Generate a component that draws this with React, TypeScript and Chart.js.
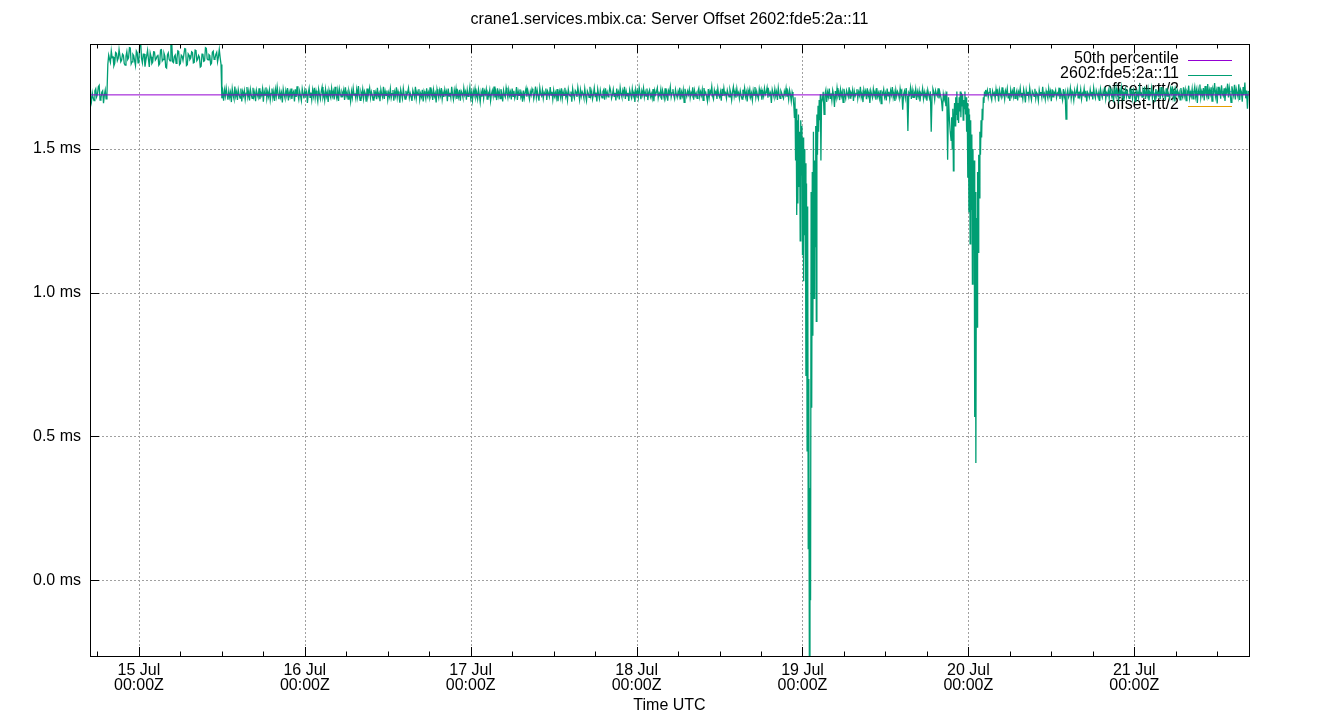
import React, { useEffect, useRef } from "react";
import { Chart, registerables } from "chart.js";

Chart.register(...registerables);

const TITLE = "crane1.services.mbix.ca: Server Offset 2602:fde5:2a::11";
const X_TITLE = "Time UTC";

// time axis in hours relative to 15 Jul 00:00Z
const X_MIN = -7.08;
const X_MAX = 160.6;
const Y_MIN = -0.264;
const Y_MAX = 1.865;

const dayTicks = [0, 24, 48, 72, 96, 120, 144];
const dayLabels = ["15 Jul", "16 Jul", "17 Jul", "18 Jul", "19 Jul", "20 Jul", "21 Jul"];
const timeLabel = "00:00Z";
const minorTickHours = 6;
const yTicks = [0, 0.5, 1.0, 1.5];

const seriesNames = ["50th percentile", "2602:fde5:2a::11", "offset+rtt/2", "offset-rtt/2"];
const seriesColors = ["#9400d3", "#009e73", "#56b4e9", "#e69f00"];

// 50th percentile offset (ms)
const medianOffset = 1.688;

// Server offset samples in microseconds. Each block: first sample hour (rel. 15 Jul 00:00Z) and sample step (hours).
// 14 Jul 17:00Z, every 7.5 min
const preStepStart = -7;
const preStepUs = [
  1683, 1664, 1695, 1678, 1668, 1702, 1709, 1681, 1690, 1716,
  1721, 1670, 1676, 1697, 1702, 1659, 1688, 1705, 1674, 1692,
];
// 14 Jul 19:30Z -> 15 Jul 11:52Z
const highStart = -4.5;
const highUs = [
  1794, 1826, 1812, 1801, 1841, 1818, 1820, 1789, 1798, 1836,
  1833, 1807, 1815, 1846, 1846, 1803, 1809, 1830, 1826, 1797,
  1792, 1822, 1838, 1811, 1817, 1852, 1851, 1796, 1803, 1829,
  1824, 1806, 1790, 1841, 1835, 1799, 1812, 1871, 1871, 1815,
  1799, 1830, 1830, 1786, 1808, 1825, 1843, 1812, 1785, 1834,
  1821, 1797, 1802, 1838, 1837, 1809, 1814, 1823, 1828, 1791,
  1796, 1844, 1845, 1806, 1811, 1833, 1823, 1784, 1781, 1827,
  1834, 1812, 1806, 1866, 1868, 1803, 1800, 1822, 1827, 1798,
  1814, 1841, 1839, 1793, 1797, 1826, 1822, 1808, 1808, 1849,
  1848, 1790, 1793, 1831, 1826, 1811, 1816, 1838, 1835, 1799,
  1801, 1844, 1843, 1807, 1812, 1825, 1819, 1785, 1788, 1830,
  1831, 1805, 1807, 1852, 1850, 1813, 1810, 1828, 1825, 1794,
  1798, 1836, 1840, 1812, 1815, 1829, 1836, 1803, 1820, 1846,
  1818, 1794,
];
// 15 Jul 12:00Z -> 18 Jul 22:37Z
const quietStart = 12;
const quietUs = [
  1676, 1699, 1668, 1705, 1684, 1712, 1690, 1671, 1702, 1680,
  1696, 1663, 1709, 1687, 1674, 1717, 1683, 1698, 1670, 1706,
  1689, 1677, 1710, 1665, 1699, 1685, 1703, 1672, 1694, 1715,
  1681, 1700, 1669, 1707, 1688, 1676, 1713, 1682, 1697, 1666,
  1704, 1690, 1679, 1711, 1673, 1695, 1686, 1708, 1664, 1701,
  1687, 1714, 1675, 1698, 1682, 1705, 1670, 1693, 1710, 1678,
  1699, 1667, 1706, 1684, 1716, 1691, 1673, 1702, 1680, 1695,
  1662, 1708, 1689, 1677, 1703, 1686, 1712, 1669, 1697, 1683,
  1710, 1674, 1694, 1700, 1665, 1707, 1681, 1718, 1688, 1672,
  1701, 1685, 1668, 1709, 1692, 1676, 1704, 1687, 1699, 1660,
  1693, 1711, 1679, 1696, 1671, 1705, 1684, 1713, 1677, 1702,
  1686, 1666, 1708, 1690, 1674, 1699, 1715, 1680, 1694, 1670,
  1707, 1683, 1697, 1663, 1704, 1688, 1678, 1711, 1685, 1700,
  1672, 1716, 1689, 1676, 1702, 1667, 1709, 1693, 1681, 1698,
  1688, 1705, 1670, 1714, 1684, 1696, 1673, 1703, 1690, 1665,
  1700, 1679, 1711, 1687, 1693, 1675, 1706, 1682, 1719, 1686,
  1669, 1697, 1684, 1708, 1676, 1701, 1692, 1664, 1710, 1681,
  1695, 1712, 1678, 1699, 1688, 1670, 1705, 1685, 1697, 1673,
  1713, 1683, 1694, 1666, 1707, 1690, 1680, 1716, 1674, 1701,
  1686, 1703, 1671, 1696, 1682, 1709, 1677, 1692, 1705, 1668,
  1698, 1684, 1714, 1679, 1700, 1687, 1661, 1706, 1691, 1675,
  1710, 1689, 1673, 1702, 1685, 1697, 1712, 1678, 1694, 1683,
  1667, 1704, 1692, 1680, 1716, 1676, 1699, 1688, 1708, 1671,
  1693, 1681, 1706, 1665, 1701, 1690, 1674, 1711, 1684, 1697,
  1679, 1714, 1687, 1699, 1670, 1705, 1683, 1694, 1662, 1708,
  1691, 1677, 1703, 1686, 1712, 1673, 1696, 1681, 1707, 1689,
  1700, 1666, 1710, 1684, 1695, 1678, 1716, 1690, 1672, 1704,
  1685, 1709, 1674, 1697, 1681, 1706, 1668, 1701, 1693, 1679,
  1712, 1688, 1699, 1671, 1705, 1683, 1692, 1715, 1677, 1696,
  1669, 1702, 1687, 1710, 1680, 1694, 1674, 1707, 1689, 1663,
  1698, 1682, 1713, 1676, 1701, 1690, 1708, 1673, 1695, 1686,
  1705, 1667, 1691, 1703, 1684, 1717, 1679, 1697, 1670, 1711,
  1683, 1699, 1675, 1708, 1692, 1665, 1704, 1688, 1680, 1713,
  1694, 1678, 1706, 1685, 1698, 1672, 1710, 1683, 1702, 1676,
  1688, 1715, 1670, 1700, 1686, 1707, 1681, 1694, 1664, 1703,
  1677, 1696, 1711, 1682, 1705, 1690, 1673, 1699, 1687, 1709,
  1700, 1674, 1692, 1717, 1679, 1703, 1685, 1668, 1712, 1690,
  1684, 1706, 1676, 1697, 1689, 1710, 1670, 1701, 1693, 1681,
  1715, 1687, 1699, 1672, 1704, 1683, 1696, 1678, 1708, 1666,
  1691, 1702, 1680, 1711, 1675, 1698, 1686, 1713, 1682, 1695,
  1670, 1707, 1690, 1684, 1700, 1664, 1709, 1688, 1676, 1703,
  1697, 1681, 1714, 1693, 1671, 1705, 1683, 1699, 1691, 1677,
  1710, 1686, 1668, 1702, 1694, 1679, 1716, 1685, 1700, 1673,
  1689, 1712, 1682, 1696, 1665, 1708, 1690, 1675, 1704, 1687,
  1678, 1699, 1706, 1671, 1711, 1684, 1697, 1681, 1693, 1714,
  1701, 1676, 1688, 1707, 1683, 1695, 1669, 1710, 1686, 1698,
  1672, 1713, 1692, 1680, 1703, 1689, 1716, 1674, 1700, 1685,
  1695, 1667, 1705, 1690, 1678, 1709, 1684, 1697, 1663, 1706,
  1687, 1701, 1679, 1714, 1693, 1673, 1702, 1688, 1711, 1680,
  1698, 1684, 1710, 1670, 1696, 1705, 1681, 1692, 1676, 1708,
  1666, 1703, 1689, 1699, 1712, 1677, 1694, 1686, 1707, 1671,
  1704, 1690, 1675, 1711, 1683, 1697, 1668, 1702, 1692, 1715,
  1680, 1695, 1708, 1686, 1674, 1706, 1690, 1679, 1700, 1687,
  1713, 1672, 1698, 1684, 1705, 1662, 1709, 1693, 1682, 1701,
  1689, 1707, 1677, 1696, 1688, 1714, 1671, 1703, 1685, 1694,
  1676, 1700, 1711, 1681, 1699, 1686, 1706, 1669, 1712, 1690,
  1697, 1683, 1666, 1708, 1679, 1702, 1693, 1717, 1684, 1673,
  1705, 1691, 1700, 1674, 1710, 1687, 1680, 1698, 1668, 1709,
  1684, 1712, 1689, 1695, 1676, 1704, 1692, 1681, 1707, 1694,
  1670, 1699, 1716, 1683, 1701, 1678, 1710, 1688, 1696, 1675,
  1702, 1686, 1673, 1706, 1690, 1712, 1682, 1697, 1665, 1704,
  1691, 1708, 1680, 1694, 1669, 1703, 1687, 1715, 1679, 1700,
  1685, 1674, 1709, 1692, 1705, 1671, 1698, 1683, 1711, 1689,
  1696, 1713, 1678, 1701, 1687, 1695, 1660, 1706, 1693, 1681,
  1708, 1684, 1699, 1670, 1712, 1689, 1676, 1702, 1694, 1683,
  1675, 1700, 1688, 1711, 1682, 1697, 1672, 1705, 1690, 1666,
  1698, 1685,
];
// 18 Jul 22:45Z -> 19 Jul 02:45Z, every 5 min
const dip1Start = 94.75;
const dip1Us = [
  1650, 1610, 1680, 1460, 1640, 1270, 1600, 1310, 1620, 1370,
  1560, 1180, 1600, 1410, 1580, 1130, 1540, 1040, 1500, 1200,
  1450, 710, 1380, 450, 1300, 110, 700, -400, 320, -70,
  1350, 600, 1420, 850, 1560, 980, 1460, 1160, 1580, 900,
  1620, 1480, 1650, 1560, 1670, 1600, 1690, 1460, 1660,
];
// 19 Jul 02:52Z -> 19 Jul 21:22Z, every 7.5 min
const midStart = 98.875;
const midUs = [
  1672, 1699, 1620, 1690, 1705, 1663, 1697, 1681, 1710, 1676,
  1693, 1668, 1704, 1688, 1646, 1701, 1679, 1712, 1685, 1697,
  1670, 1706, 1684, 1699, 1662, 1709, 1689, 1675, 1703, 1692,
  1681, 1714, 1677, 1696, 1688, 1705, 1667, 1700, 1684, 1693,
  1708, 1675, 1698, 1686, 1716, 1680, 1694, 1663, 1706, 1689,
  1701, 1673, 1711, 1684, 1697, 1660, 1703, 1690, 1678, 1708,
  1686, 1699, 1671, 1712, 1682, 1695, 1676, 1704, 1658, 1697,
  1690, 1707, 1680, 1694, 1669, 1710, 1685, 1699, 1674, 1703,
  1688, 1715, 1679, 1696, 1667, 1705, 1683, 1700, 1692, 1676,
  1709, 1687, 1698, 1636, 1690, 1701, 1678, 1712, 1684, 1562,
  1695, 1688, 1712, 1674, 1704, 1679, 1697, 1686, 1708, 1670,
  1699, 1683, 1702, 1665, 1693, 1688, 1710, 1675, 1698, 1681,
  1695, 1668, 1705, 1690, 1677, 1700, 1560, 1689, 1709, 1698,
  1672, 1703, 1691, 1684, 1711, 1676, 1697, 1683, 1666, 1631,
  1690, 1672, 1688, 1649, 1700, 1462, 1680, 1607, 1560,
];
// 19 Jul 21:30Z -> 20 Jul 02:30Z, every 5 min
const dip2Start = 117.5;
const dip2Us = [
  1530, 1610, 1500, 1640, 1424, 1600, 1660, 1580, 1680, 1620,
  1700, 1600, 1660, 1590, 1680, 1630, 1700, 1610, 1695, 1650,
  1690, 1600, 1670, 1640, 1700, 1620, 1680, 1560, 1660, 1400,
  1640, 1280, 1620, 1170, 1600, 1290, 1550, 1030, 1500, 1150,
  1460, 567, 1350, 407, 1260, 880, 1420, 1140, 1480, 1330,
  1560, 1480, 1600, 1540, 1640, 1600, 1680, 1660, 1700, 1685,
  1705,
];
// 20 Jul 02:37Z -> 21 Jul 16:30Z, every 7.5 min
const lateStart = 122.625;
const lateUs = [
  1690, 1704, 1679, 1697, 1712, 1683, 1670, 1701, 1688, 1695,
  1676, 1708, 1684, 1699, 1665, 1706, 1691, 1680, 1714, 1687,
  1697, 1673, 1702, 1689, 1710, 1678, 1694, 1667, 1705, 1685,
  1700, 1682, 1715, 1676, 1692, 1703, 1669, 1698, 1687, 1711,
  1681, 1695, 1674, 1707, 1690, 1662, 1704, 1686, 1699, 1677,
  1712, 1688, 1671, 1701, 1694, 1683, 1709, 1675, 1696, 1690,
  1668, 1705, 1687, 1698, 1679, 1716, 1684, 1693, 1672, 1702,
  1689, 1676, 1710, 1685, 1700, 1666, 1707, 1681, 1697, 1691,
  1704, 1678, 1694, 1688, 1713, 1674, 1699, 1686, 1670, 1708,
  1683, 1697, 1604, 1692, 1705, 1680, 1688, 1711, 1675, 1700,
  1691, 1669, 1703, 1686, 1696, 1714, 1678, 1699, 1684, 1707,
  1673, 1694, 1688, 1710, 1681, 1702, 1665, 1697, 1690, 1679,
  1706, 1685, 1699, 1672, 1712, 1689, 1677, 1704, 1693, 1682,
  1698, 1667, 1708, 1690, 1679, 1701, 1686, 1715, 1674, 1695,
  1687, 1703, 1676, 1709, 1692, 1681, 1700, 1663, 1705, 1688,
  1711, 1684, 1696, 1673, 1702, 1690, 1714, 1680, 1697, 1670,
  1693, 1708, 1682, 1699, 1686, 1676, 1710, 1689, 1701, 1675,
  1704, 1691, 1666, 1706, 1683, 1697, 1678, 1712, 1688, 1694,
  1680, 1702, 1690, 1717, 1674, 1699, 1685, 1707, 1669, 1696,
  1688, 1711, 1677, 1700, 1692, 1664, 1708, 1683, 1697, 1686,
  1702, 1673, 1715, 1689, 1681, 1705, 1694, 1670, 1711, 1684,
  1699, 1687, 1676, 1709, 1693, 1718, 1680, 1701, 1665, 1706,
  1690, 1703, 1684, 1697, 1671, 1712, 1688, 1679, 1714, 1686,
  1705, 1668, 1700, 1692, 1720, 1677, 1696, 1683, 1709, 1674,
  1698, 1716, 1682, 1703, 1660, 1707, 1691, 1724, 1678, 1700,
  1687, 1712, 1669, 1719, 1694, 1681, 1726, 1673, 1705, 1690,
  1714, 1666, 1708, 1697, 1729, 1683, 1701, 1658, 1716, 1688,
  1703, 1675, 1721, 1692, 1684, 1711, 1667, 1706, 1695, 1727,
  1679, 1713, 1690, 1662, 1718, 1700, 1686, 1723, 1672, 1709,
  1694, 1681, 1725, 1670, 1707, 1698, 1664, 1715, 1688, 1731,
  1676, 1703, 1640, 1702,
];

const STEP_NORMAL = 0.125; // 7.5 min
const STEP_DENSE = 1 / 12; // 5 min

const offsetBlocks = [
  { start: preStepStart, step: STEP_NORMAL, values: preStepUs },
  { start: highStart, step: STEP_NORMAL, values: highUs },
  { start: quietStart, step: STEP_NORMAL, values: quietUs },
  { start: dip1Start, step: STEP_DENSE, values: dip1Us },
  { start: midStart, step: STEP_NORMAL, values: midUs },
  { start: dip2Start, step: STEP_DENSE, values: dip2Us },
  { start: lateStart, step: STEP_NORMAL, values: lateUs },
];

const FONT = '"Liberation Sans", Arial, sans-serif';
const FONT_SIZE = 16;

const gnuplotPlugin = {
  id: "gnuplotFrame",
  beforeDatasetsDraw(chart: any) {
    const { ctx, chartArea } = chart;
    const xs = chart.scales.x;
    const ys = chart.scales.y;
    const { left, right, top, bottom } = chartArea;
    ctx.save();
    ctx.strokeStyle = "#a0a0a0";
    ctx.lineWidth = 1;
    ctx.setLineDash([2, 2]);
    dayTicks.forEach((v) => {
      const x = Math.round(xs.getPixelForValue(v)) + 0.5;
      ctx.beginPath();
      ctx.moveTo(x, top);
      ctx.lineTo(x, bottom);
      ctx.stroke();
    });
    yTicks.forEach((v) => {
      const y = Math.round(ys.getPixelForValue(v)) + 0.5;
      ctx.beginPath();
      ctx.moveTo(left, y);
      ctx.lineTo(right, y);
      ctx.stroke();
    });
    ctx.setLineDash([]);
    // key
    ctx.font = `${FONT_SIZE}px ${FONT}`;
    ctx.textAlign = "right";
    ctx.textBaseline = "middle";
    const rowH = 15.35;
    chart.data.datasets.forEach((ds: any, i: number) => {
      const yText = top + 14.5 + i * rowH;
      ctx.fillStyle = "#000";
      ctx.fillText(ds.label, right - 70, yText);
      ctx.strokeStyle = ds.borderColor;
      ctx.lineWidth = 1;
      const yl = Math.round(yText + 1.5) + 0.5;
      ctx.beginPath();
      ctx.moveTo(right - 61, yl);
      ctx.lineTo(right - 17, yl);
      ctx.stroke();
    });
    ctx.restore();
  },
  afterDatasetsDraw(chart: any) {
    const { ctx, chartArea } = chart;
    const xs = chart.scales.x;
    const ys = chart.scales.y;
    const { left, right, top, bottom } = chartArea;
    ctx.save();
    ctx.strokeStyle = "#000";
    ctx.lineWidth = 1;
    ctx.strokeRect(left + 0.5, top + 0.5, right - left, bottom - top);
    ctx.beginPath();
    for (let h = Math.ceil(X_MIN / minorTickHours) * minorTickHours; h <= X_MAX; h += minorTickHours) {
      const major = h % 24 === 0;
      const len = major ? 9 : 4.5;
      const x = Math.round(xs.getPixelForValue(h)) + 0.5;
      ctx.moveTo(x, bottom);
      ctx.lineTo(x, bottom - len);
      ctx.moveTo(x, top);
      ctx.lineTo(x, top + len);
    }
    yTicks.forEach((v) => {
      const y = Math.round(ys.getPixelForValue(v)) + 0.5;
      ctx.moveTo(left, y);
      ctx.lineTo(left + 9, y);
    });
    ctx.stroke();
    ctx.restore();
  },
  afterDraw(chart: any) {
    const { ctx, chartArea } = chart;
    ctx.save();
    ctx.fillStyle = "#000";
    ctx.font = `${FONT_SIZE}px ${FONT}`;
    ctx.textAlign = "center";
    ctx.textBaseline = "middle";
    const cx = (chartArea.left + chartArea.right) / 2;
    ctx.fillText(TITLE, cx, 20);
    ctx.fillText(X_TITLE, cx, 706);
    ctx.restore();
  },
};

export default function App() {
  const ref = useRef<HTMLCanvasElement | null>(null);

  useEffect(() => {
    if (!ref.current) return;
    const offsetPoints: { x: number; y: number }[] = [];
    offsetBlocks.forEach((b) => {
      b.values.forEach((v, i) => {
        offsetPoints.push({ x: b.start + i * b.step, y: v / 1000 });
      });
    });
    const medianPoints = [
      { x: X_MIN, y: medianOffset },
      { x: X_MAX, y: medianOffset },
    ];
    const chart = new Chart(ref.current, {
      type: "line",
      data: {
        datasets: [
          { label: seriesNames[0], data: medianPoints, borderColor: seriesColors[0], borderWidth: 1, pointRadius: 0, order: 1 },
          { label: seriesNames[1], data: offsetPoints, borderColor: seriesColors[1], borderWidth: 1.3, pointRadius: 0, order: 2 },
          { label: seriesNames[2], data: [], borderColor: seriesColors[2], borderWidth: 1, pointRadius: 0, order: 3 },
          { label: seriesNames[3], data: [], borderColor: seriesColors[3], borderWidth: 1, pointRadius: 0, order: 4 },
        ],
      },
      options: {
        animation: false,
        responsive: false,
        events: [],
        layout: { padding: { top: 44, right: 91, left: 0, bottom: 0 } },
        elements: { line: { tension: 0 } },
        plugins: {
          legend: { display: false },
          title: { display: false },
          tooltip: { enabled: false },
        },
        scales: {
          x: {
            type: "linear",
            min: X_MIN,
            max: X_MAX,
            grid: { display: false, drawTicks: false },
            border: { display: false },
            afterFit: (s: any) => {
              s.height = 64;
            },
            afterBuildTicks: (s: any) => {
              s.ticks = dayTicks.map((v) => ({ value: v }));
            },
            ticks: {
              autoSkip: false,
              maxRotation: 0,
              padding: 7,
              color: "#000",
              font: { family: FONT, size: FONT_SIZE, lineHeight: 0.95 },
              callback: (v: any) => {
                const idx = dayTicks.indexOf(Number(v));
                return idx >= 0 ? [dayLabels[idx], timeLabel] : "";
              },
            },
          },
          y: {
            type: "linear",
            min: Y_MIN,
            max: Y_MAX,
            grid: { display: false, drawTicks: false },
            border: { display: false },
            afterFit: (s: any) => {
              s.width = 90;
            },
            afterBuildTicks: (s: any) => {
              s.ticks = yTicks.map((v) => ({ value: v }));
            },
            ticks: {
              padding: 9,
              color: "#000",
              font: { family: FONT, size: FONT_SIZE },
              callback: (v: any) => `${Number(v).toFixed(1)} ms`,
            },
          },
        },
      },
      plugins: [gnuplotPlugin],
    });
    return () => chart.destroy();
  }, []);

  return (
    <div style={{ position: "fixed", left: 0, top: 0, width: 1340, height: 720, background: "#fff" }}>
      <canvas ref={ref} width={1340} height={720} style={{ display: "block" }} />
    </div>
  );
}
